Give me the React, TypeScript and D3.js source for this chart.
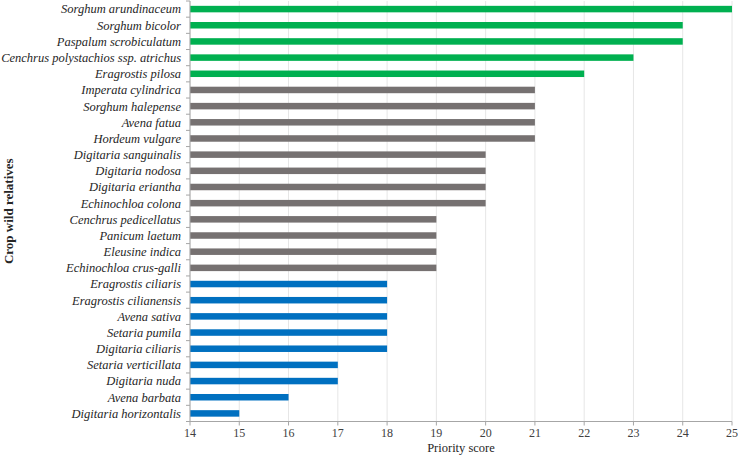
import React from "react";
import * as d3 from "d3";

const categories = [
  "Sorghum arundinaceum", "Sorghum bicolor", "Paspalum scrobiculatum",
  "Cenchrus polystachios ssp. atrichus", "Eragrostis pilosa", "Imperata cylindrica",
  "Sorghum halepense", "Avena fatua", "Hordeum vulgare", "Digitaria sanguinalis",
  "Digitaria nodosa", "Digitaria eriantha", "Echinochloa colona", "Cenchrus pedicellatus",
  "Panicum laetum", "Eleusine indica", "Echinochloa crus-galli", "Eragrostis ciliaris",
  "Eragrostis cilianensis", "Avena sativa", "Setaria pumila", "Digitaria ciliaris",
  "Setaria verticillata", "Digitaria nuda", "Avena barbata", "Digitaria horizontalis",
];
const scores = [25, 24, 24, 23, 22, 21, 21, 21, 21, 20, 20, 20, 20, 19, 19, 19, 19, 18, 18, 18, 18, 18, 17, 17, 16, 15];
const groups = ["high", "high", "high", "high", "high", "mid", "mid", "mid", "mid", "mid", "mid", "mid", "mid", "mid", "mid", "mid", "mid", "low", "low", "low", "low", "low", "low", "low", "low", "low"];
const xTicks = [14, 15, 16, 17, 18, 19, 20, 21, 22, 23, 24, 25];
const groupColors: Record<string, string> = { high: "#00B050", mid: "#767171", low: "#0070C0" };

export default function App() {
  const W = 738, H = 457;
  const left = 190, right = 732, top = 1, bottom = 421.5;
  const x = d3.scaleLinear().domain([14, 25]).range([left, right]);
  const y = d3.scaleBand<string>().domain(categories).range([top, bottom]);
  const barH = 6.5;
  const ff = { fontFamily: '"Liberation Serif"' };
  return (
    <svg width={W} height={H} style={{ position: "absolute", left: 0, top: 0, background: "#fff" }}>
      {xTicks.map((t) => (
        <line key={"g" + t} x1={x(t)} x2={x(t)} y1={top} y2={bottom} stroke="#e6e6e6" strokeWidth={1} />
      ))}
      {categories.map((c, i) => (
        <rect key={c} x={x(14)} y={(y(c) as number) + y.bandwidth() / 2 - barH / 2}
          width={x(scores[i]) - x(14)} height={barH} fill={groupColors[groups[i]]} />
      ))}
      <line x1={left} x2={left} y1={top} y2={bottom} stroke="#a6a6a6" />
      {categories.map((c) => (
        <line key={"yt" + c} x1={left - 4} x2={left} y1={(y(c) as number)} y2={(y(c) as number)} stroke="#a6a6a6" />
      ))}
      <line x1={left - 4} x2={left} y1={bottom} y2={bottom} stroke="#a6a6a6" />
      <line x1={left} x2={right} y1={bottom} y2={bottom} stroke="#a6a6a6" />
      {xTicks.map((t) => (
        <g key={"xt" + t}>
          <line x1={x(t)} x2={x(t)} y1={bottom} y2={bottom + 4} stroke="#a6a6a6" />
          <text x={x(t)} y={437} textAnchor="middle" fontSize={12} fill="#404040" style={ff}>{t}</text>
        </g>
      ))}
      {categories.map((c) => (
        <text key={"l" + c} x={181} y={(y(c) as number) + y.bandwidth() / 2} dy="0.35em"
          textAnchor="end" fontSize={12.5} fontStyle="italic" fill="#262626" style={ff}>{c}</text>
      ))}
      <text x={(left + right) / 2} y={452} textAnchor="middle" fontSize={12.5} fill="#262626" style={ff}>Priority score</text>
      <text transform={`translate(13, ${(top + bottom) / 2}) rotate(-90)`} textAnchor="middle"
        fontSize={13} fontWeight="bold" fill="#262626" style={ff}>Crop wild relatives</text>
    </svg>
  );
}
